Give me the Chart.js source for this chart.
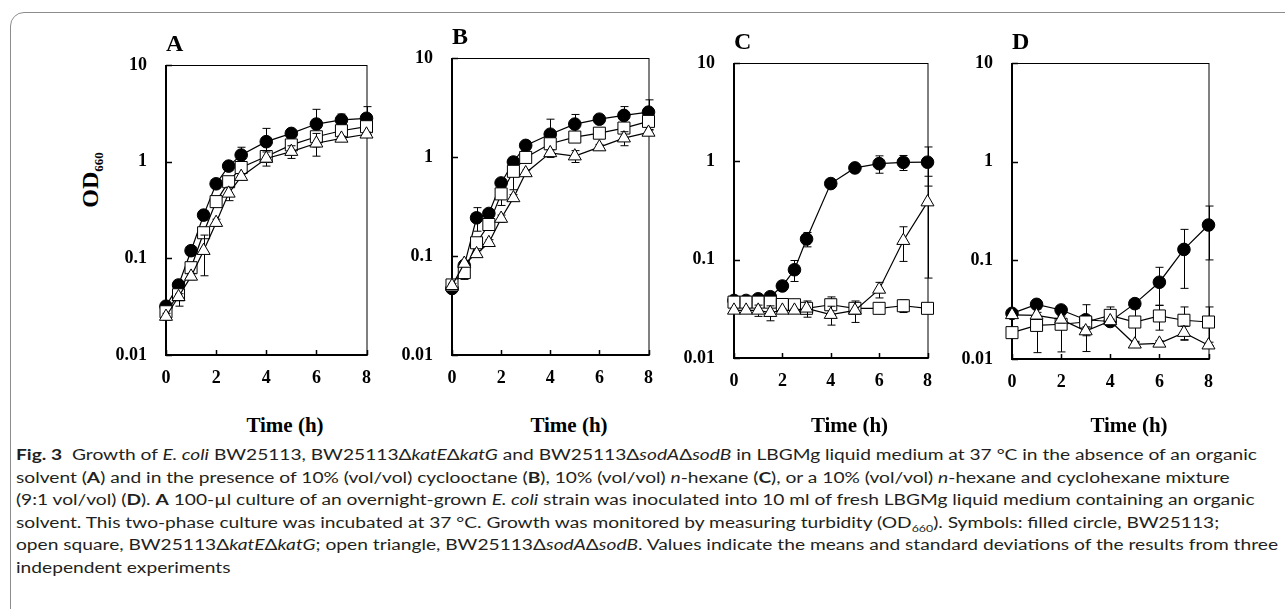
<!DOCTYPE html>
<html>
<head>
<meta charset="utf-8">
<script src="https://cdn.jsdelivr.net/npm/chart.js@4.4.1/dist/chart.umd.min.js"></script>
<style>
  html, body { margin: 0; padding: 0; background: #fff; }
  body { width: 1285px; height: 609px; position: relative; overflow: hidden; }
  #frame { position: absolute; left: 10px; top: 12px; width: 1300px; height: 610px; border: 1.5px solid #8c8c8c; border-radius: 14px; }
  canvas { position: absolute; }
  .xtitle { position: absolute; font: bold 21px "Liberation Serif", serif; color: #000; transform: translate(-50%, -50%); white-space: nowrap; }
  #ylab { position: absolute; left: 92px; top: 180px; transform: translate(-50%, -50%) rotate(-90deg); font: bold 24px "Liberation Serif", serif; white-space: nowrap; color: #000; }
  #ylab sub { font-size: 13px; }
  #caption { position: absolute; left: 16px; top: 443px; font-family: Lato, sans-serif; font-size: 15.5px; line-height: 22.6px; color: #231f20; transform-origin: 0 0; }
  #caption .ln { white-space: nowrap; width: max-content; }
  #caption sub { font-size: 10px; line-height: 0; }
</style>
</head>
<body>
<div id="frame"></div>
<div id="ylab">OD<sub>660</sub></div>
<div id="caption">
  <div class="ln"><b>Fig. 3</b>&nbsp; Growth of <i>E. coli</i> BW25113, BW25113Δ<i>katE</i>Δ<i>katG</i> and BW25113Δ<i>sodA</i>Δ<i>sodB</i> in LBGMg liquid medium at 37 °C in the absence of an organic</div>
  <div class="ln">solvent (<b>A</b>) and in the presence of 10% (vol/vol) cyclooctane (<b>B</b>), 10% (vol/vol) <i>n</i>-hexane (<b>C</b>), or a 10% (vol/vol) <i>n</i>-hexane and cyclohexane mixture</div>
  <div class="ln">(9:1 vol/vol) (<b>D</b>). <b>A</b> 100-µl culture of an overnight-grown <i>E. coli</i> strain was inoculated into 10 ml of fresh LBGMg liquid medium containing an organic</div>
  <div class="ln">solvent. This two-phase culture was incubated at 37 °C. Growth was monitored by measuring turbidity (OD<sub>660</sub>). Symbols: filled circle, BW25113;</div>
  <div class="ln">open square, BW25113Δ<i>katE</i>Δ<i>katG</i>; open triangle, BW25113Δ<i>sodA</i>Δ<i>sodB</i>. Values indicate the means and standard deviations of the results from three</div>
  <div class="ln">independent experiments</div>
</div>
<script>
// ===== Data =====
const timeFine = [0, 0.5, 1, 1.5, 2, 2.5, 3, 4, 5, 6, 7, 8];
const timeHourly = [0, 1, 2, 3, 4, 5, 6, 7, 8];
const yTicks = [0.01, 0.1, 1, 10];
const yTickLabels = ["0.01", "0.1", "1", "10"];
const xTicks = [0, 2, 4, 6, 8];
const xTickLabels = ["0", "2", "4", "6", "8"];
const panelLetters = ["A", "B", "C", "D"];
const xAxisTitle = "Time (h)";

// A: no solvent
const aCircle     = [0.032, 0.053, 0.12, 0.28, 0.59, 0.90, 1.17, 1.61, 1.96, 2.45, 2.70, 2.81];
const aCircleSd   = [0.003, 0.004, 0.01, 0.03, 0.05, 0.08, 0.24, 0.60, 0.15, 1.03, 0.41, 0.90];
const aSquare     = [0.028, 0.042, 0.080, 0.184, 0.386, 0.62, 0.87, 1.13, 1.49, 1.81, 2.09, 2.30];
const aSquareSd   = [0.002, 0.010, 0.008, 0.02, 0.03, 0.05, 0.06, 0.10, 0.10, 0.15, 0.15, 0.25];
const aTriangle   = [0.025, 0.040, 0.065, 0.12, 0.234, 0.47, 0.70, 1.08, 1.27, 1.55, 1.74, 1.92];
const aTriangleSd = [0.002, 0.003, 0.005, 0.054, 0.02, 0.075, 0.05, 0.18, 0.19, 0.41, 0.10, 0.10];

// B: cyclooctane
const bCircle     = [0.047, 0.08, 0.243, 0.269, 0.547, 0.89, 1.31, 1.70, 2.15, 2.41, 2.63, 2.84];
const bCircleSd   = [0.003, 0.005, 0.065, 0.02, 0.04, 0.07, 0.13, 0.71, 0.54, 0.20, 0.60, 0.94];
const bSquare     = [0.051, 0.068, 0.136, 0.208, 0.424, 0.717, 0.99, 1.36, 1.59, 1.74, 1.96, 2.29];
const bSquareSd   = [0.004, 0.010, 0.010, 0.015, 0.10, 0.25, 0.08, 0.10, 0.12, 0.12, 0.15, 0.20];
const bTriangle   = [0.050, 0.084, 0.105, 0.136, 0.239, 0.386, 0.69, 1.10, 1.02, 1.26, 1.55, 1.77];
const bTriangleSd = [0.003, 0.006, 0.008, 0.010, 0.02, 0.03, 0.05, 0.08, 0.14, 0.08, 0.25, 0.10];

// C: n-hexane
const cCircle     = [0.0385, 0.0385, 0.040, 0.042, 0.054, 0.079, 0.162, 0.594, 0.857, 0.947, 0.977, 0.98];
const cCircleSd   = [0.001, 0.001, 0.001, 0.002, 0.004, 0.019, 0.027, 0.05, 0.05, 0.19, 0.17, 0.42];
const cSquare     = [0.037, 0.037, 0.037, 0.037, 0.035, 0.0348, 0.032, 0.0348, 0.032, 0.032, 0.034, 0.032];
const cSquareSd   = [0.001, 0.001, 0.001, 0.001, 0.002, 0.002, 0.002, 0.007, 0.002, 0.002, 0.005, 0.002];
const cTriangle   = [0.0305, 0.0305, 0.0305, 0.0289, 0.0305, 0.0305, 0.032, 0.0276, 0.0305, 0.0498, 0.156, 0.385];
const cTriangleSd = [0.001, 0.001, 0.004, 0.005, 0.001, 0.001, 0.006, 0.006, 0.0075, 0.009, 0.06, 0.32];

// D: n-hexane + cyclohexane
const dCircle     = [0.029, 0.0358, 0.0314, 0.025, 0.024, 0.0364, 0.060, 0.129, 0.228];
const dCircleSd   = [0.001, 0.002, 0.002, 0.002, 0.002, 0.004, 0.025, 0.077, 0.127];
const dSquare     = [0.0185, 0.0219, 0.0225, 0.0237, 0.0277, 0.0237, 0.0273, 0.0247, 0.0237];
const dSquareSd   = [0.002, 0.0103, 0.0107, 0.0118, 0.006, 0.009, 0.0077, 0.009, 0.010];
const dTriangle   = [0.028, 0.0277, 0.0252, 0.0192, 0.0243, 0.0141, 0.0144, 0.0185, 0.0138];
const dTriangleSd = [0.001, 0.002, 0.002, 0.002, 0.001, 0.001, 0.001, 0.003, 0.001];

// ===== Layout (plot area boxes in page pixels) =====
const panels = [
  { letter: panelLetters[0], t: timeFine,   c: aCircle, cs: aCircleSd, s: aSquare, ss: aSquareSd, tr: aTriangle, ts: aTriangleSd, L: 166,  R: 372,  T: 65, B: 355 },
  { letter: panelLetters[1], t: timeFine,   c: bCircle, cs: bCircleSd, s: bSquare, ss: bSquareSd, tr: bTriangle, ts: bTriangleSd, L: 452,  R: 654,  T: 58, B: 355 },
  { letter: panelLetters[2], t: timeFine,   c: cCircle, cs: cCircleSd, s: cSquare, ss: cSquareSd, tr: cTriangle, ts: cTriangleSd, L: 734,  R: 933,  T: 63, B: 358 },
  { letter: panelLetters[3], t: timeHourly, c: dCircle, cs: dCircleSd, s: dSquare, ss: dSquareSd, tr: dTriangle, ts: dTriangleSd, L: 1012, R: 1214, T: 63, B: 359 }
];

const Y_AXIS_W = 80, X_AXIS_H = 40, PAD_TOP = 4, PAD_RIGHT = 12, TITLE_H = 32;
const serif = "Liberation Serif";

// error bars, drawn under each series' own markers
const errorBars = {
  id: "errorBars",
  beforeDatasetDraw(chart, args) {
    const ds = chart.data.datasets[args.index];
    if (!ds.sd) return;
    const { ctx, scales: { x, y } } = chart;
    ctx.save();
    ctx.strokeStyle = "#000";
    ctx.lineWidth = 1;
    ds.data.forEach((p, i) => {
      const s = ds.sd[i];
      if (!s) return;
      const px = Math.round(x.getPixelForValue(p.x)) + 0.5;
      const hi = y.getPixelForValue(p.y + s);
      const hasLo = p.y - s > 0;
      const lo = hasLo ? y.getPixelForValue(p.y - s) : y.bottom;
      ctx.beginPath();
      ctx.moveTo(px, hi); ctx.lineTo(px, lo);
      ctx.moveTo(px - 4, hi); ctx.lineTo(px + 4, hi);
      if (hasLo) { ctx.moveTo(px - 4, lo); ctx.lineTo(px + 4, lo); }
      ctx.stroke();
    });
    ctx.restore();
  }
};

// box around the plot with inward tick marks
const frame = {
  id: "frame",
  beforeDatasetsDraw(chart) {
    const { ctx, chartArea: a, scales: { x, y } } = chart;
    ctx.save();
    ctx.strokeStyle = "#000";
    ctx.lineWidth = 1;
    ctx.strokeRect(a.left + 0.5, a.top + 0.5, a.width, a.height);
    ctx.lineWidth = 2;
    ctx.beginPath();
    ctx.moveTo(a.left, a.top);
    ctx.lineTo(a.left, a.bottom);
    ctx.lineTo(a.right + 1, a.bottom);
    ctx.stroke();
    ctx.lineWidth = 1.5;
    ctx.beginPath();
    yTicks.forEach(v => {
      const py = Math.round(y.getPixelForValue(v)) + 0.5;
      ctx.moveTo(a.left, py); ctx.lineTo(a.left + 6, py);
    });
    xTicks.forEach(v => {
      const px = Math.round(x.getPixelForValue(v)) + 0.5;
      ctx.moveTo(px, a.bottom); ctx.lineTo(px, a.bottom - 5);
    });
    ctx.stroke();
    ctx.restore();
  }
};

function series(times, vals, sd, style, radius, fill, order) {
  return {
    data: times.map((t, i) => ({ x: t, y: vals[i] })),
    sd,
    order,
    borderColor: "#000",
    borderWidth: 1.2,
    pointStyle: style,
    pointRadius: radius,
    pointBorderWidth: 1,
    pointBorderColor: "#000",
    pointBackgroundColor: fill,
    backgroundColor: fill,
    tension: 0,
    fill: false,
    clip: false
  };
}

panels.forEach(p => {
  const cv = document.createElement("canvas");
  const w = Y_AXIS_W + (p.R - p.L) + PAD_RIGHT;
  const h = PAD_TOP + TITLE_H + (p.B - p.T) + X_AXIS_H;
  cv.width = w; cv.height = h;
  cv.style.left = (p.L - Y_AXIS_W) + "px";
  cv.style.top = (p.T - TITLE_H - PAD_TOP) + "px";
  document.body.appendChild(cv);

  const tickFont = { family: serif, size: 18, weight: "bold" };

  new Chart(cv, {
    type: "line",
    data: {
      datasets: [
        series(p.t, p.tr, p.ts, "triangle", 7.5, "#fff", 1),
        series(p.t, p.s, p.ss, "rect", 8.5, "#fff", 2),
        series(p.t, p.c, p.cs, "circle", 6.3, "#000", 3)
      ]
    },
    options: {
      responsive: false,
      animation: false,
      devicePixelRatio: 1,
      layout: { padding: { top: PAD_TOP, right: PAD_RIGHT, left: 0, bottom: 0 } },
      plugins: {
        legend: { display: false },
        tooltip: { enabled: false },
        title: {
          display: true, text: p.letter, align: "start", fullSize: false, color: "#000",
          font: { family: serif, size: 24, weight: "bold", lineHeight: 1 },
          padding: { top: 0, bottom: 8 }
        }
      },
      scales: {
        x: {
          type: "linear", min: 0, max: 8,
          afterBuildTicks: s => { s.ticks = xTicks.map(v => ({ value: v })); },
          afterFit: s => { s.height = X_AXIS_H; },
          grid: { display: false, drawTicks: false },
          border: { display: false },
          ticks: { padding: 13, color: "#000", font: tickFont, callback: (v, i) => xTickLabels[i] }
        },
        y: {
          type: "logarithmic", min: 0.01, max: 10,
          afterBuildTicks: s => { s.ticks = yTicks.map(v => ({ value: v })); },
          afterFit: s => { s.width = Y_AXIS_W; },
          grid: { display: false, drawTicks: false },
          border: { display: false },
          ticks: { padding: 19, color: "#000", font: tickFont, callback: (v, i) => yTickLabels[i] }
        }
      }
    },
    plugins: [frame, errorBars]
  });

  const tt = document.createElement("div");
  tt.className = "xtitle";
  tt.textContent = xAxisTitle;
  tt.style.left = ((p.L + p.R) / 2 + 16) + "px";
  tt.style.top = "425px";
  document.body.appendChild(tt);
});

// squeeze caption so its longest line ends near the right edge, like the source
function fitCaption() {
  const cap = document.getElementById("caption");
  cap.style.transform = "none";
  const widest = Math.max(...[...cap.querySelectorAll(".ln")].map(l => l.getBoundingClientRect().width));
  cap.style.transform = `scaleX(${1262 / widest})`;
}
fitCaption();
if (document.fonts) document.fonts.ready.then(fitCaption);
</script>
</body>
</html>
